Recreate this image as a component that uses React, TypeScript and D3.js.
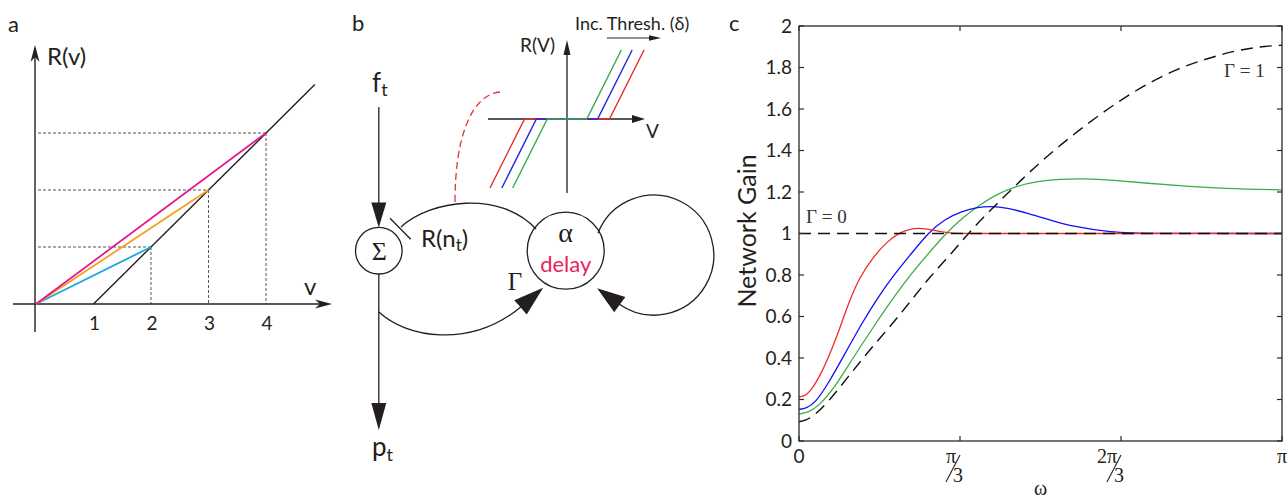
import React, { useEffect, useRef } from 'react';
import * as d3 from 'd3';

// ---------- panel a : threshold-linear rate function ----------
const aTicks = [1, 2, 3, 4];
const aThreshold = 1;
const aLineEnd = 4.85;
const aChordEnds = [2, 3, 4];
const aChordColors = ['#1ba6e0', '#f7a01c', '#e5198b'];

// ---------- panel b inset : thresholds (red, blue, green) ----------
const insetDeltas = [2.15, 1.55, 1.0];
const insetColors = ['#ec2a2d', '#1f25e6', '#3aab48'];
const insetSlope = 2;
const insetRMax = 3.5;

// ---------- panel c : network gain vs omega (omega in units of pi) ----------
const gainTicks = [0, 0.2, 0.4, 0.6, 0.8, 1, 1.2, 1.4, 1.6, 1.8, 2];
const omegaTicks = [0, 1 / 3, 2 / 3, 1];

const redGain = [
  [0, 0.212], [0.012, 0.218], [0.023, 0.237], [0.043, 0.31], [0.064, 0.42], [0.081, 0.519],
  [0.102, 0.663], [0.126, 0.792], [0.154, 0.888], [0.182, 0.96], [0.209, 1.008],
  [0.247, 1.032], [0.282, 1.013], [0.316, 1.0], [0.36, 1.0], [1, 1.0],
];
const blueGain = [
  [0, 0.152], [0.015, 0.158], [0.033, 0.181], [0.061, 0.278], [0.095, 0.42], [0.13, 0.567],
  [0.164, 0.695], [0.199, 0.808], [0.233, 0.904], [0.268, 1.005], [0.302, 1.07],
  [0.337, 1.107], [0.371, 1.127], [0.397, 1.132], [0.43, 1.124], [0.475, 1.097],
  [0.52, 1.065], [0.567, 1.033], [0.645, 1.006], [0.72, 1.0], [1, 1.0],
];
const greenGain = [
  [0, 0.13], [0.018, 0.137], [0.04, 0.165], [0.075, 0.262], [0.109, 0.39], [0.15, 0.535],
  [0.192, 0.68], [0.233, 0.808], [0.268, 0.904], [0.302, 0.995], [0.337, 1.073],
  [0.378, 1.145], [0.413, 1.193], [0.45, 1.228], [0.49, 1.25], [0.54, 1.262],
  [0.59, 1.265], [0.65, 1.257], [0.722, 1.242], [0.8, 1.228], [0.877, 1.217], [1, 1.21],
];
const gammaOneGain = [
  [0, 0.093], [0.015, 0.1], [0.033, 0.125], [0.061, 0.19], [0.102, 0.31], [0.143, 0.43],
  [0.188, 0.55], [0.23, 0.67], [0.271, 0.792], [0.316, 0.904], [0.361, 1.03],
  [0.413, 1.15], [0.463, 1.265], [0.505, 1.355], [0.556, 1.455], [0.612, 1.555],
  [0.666, 1.643], [0.722, 1.723], [0.782, 1.793], [0.846, 1.844], [0.907, 1.884],
  [0.969, 1.904], [1, 1.907],
];
const gammaZeroGain = [[0, 1], [1, 1]];

const SANS = 'Lato, "Open Sans", sans-serif';
const SERIF = '"Liberation Serif", "DejaVu Serif", serif';
const INK = '#231f20';

// filled arrow head; dir is the unit direction the arrow points in
function arrowHead(g, tip, dir, len, half, notch = 0, fill = INK) {
  const [ux, uy] = dir;
  const bx = tip[0] - ux * len, by = tip[1] - uy * len;
  const nx = -uy, ny = ux;
  const pts = [
    tip,
    [bx + nx * half, by + ny * half],
    [tip[0] - ux * (len - notch), tip[1] - uy * (len - notch)],
    [bx - nx * half, by - ny * half],
  ];
  g.append('path').attr('d', d3.line()(pts) + 'Z').attr('fill', fill);
}

function drawPanelA(svg) {
  const g = svg.append('g');
  const x = d3.scaleLinear().domain([0, 4]).range([36, 266]);
  const y = d3.scaleLinear().domain([0, 3]).range([304, 133]);

  g.append('text').attr('x', 8).attr('y', 32).text('a')
    .attr('font-family', SANS).attr('font-size', 22).attr('fill', INK);

  // guides
  aChordEnds.forEach(e => {
    const r = e - aThreshold;
    g.append('line').attr('x1', x(0) + 2).attr('x2', x(e)).attr('y1', y(r)).attr('y2', y(r))
      .attr('stroke', '#555').attr('stroke-width', 1).attr('stroke-dasharray', '3,2');
    g.append('line').attr('x1', x(e)).attr('x2', x(e)).attr('y1', y(r)).attr('y2', y(0))
      .attr('stroke', '#555').attr('stroke-width', 1).attr('stroke-dasharray', '3,2');
  });

  // axes
  g.append('line').attr('x1', 13).attr('x2', 322).attr('y1', y(0)).attr('y2', y(0))
    .attr('stroke', INK).attr('stroke-width', 1.4);
  arrowHead(g, [332, y(0)], [1, 0], 17, 4.5, 5);
  g.append('line').attr('x1', x(0) - 1).attr('x2', x(0) - 1).attr('y1', 332).attr('y2', 55)
    .attr('stroke', INK).attr('stroke-width', 1.4);
  arrowHead(g, [x(0) - 1, 45], [0, -1], 17, 4.5, 5);

  const line = d3.line().x(d => x(d[0])).y(d => y(d[1]));

  // threshold-linear R(v)
  g.append('path').attr('d', line([[aThreshold, 0], [aLineEnd, aLineEnd - aThreshold]]))
    .attr('fill', 'none').attr('stroke', INK).attr('stroke-width', 1.4);

  aChordEnds.forEach((e, i) => {
    g.append('path').attr('d', line([[0, 0], [e, e - aThreshold]]))
      .attr('fill', 'none').attr('stroke', aChordColors[i]).attr('stroke-width', 1.8);
  });

  g.selectAll('.atick').data(aTicks).enter().append('text')
    .attr('x', d => x(d) + 1).attr('y', 330).attr('text-anchor', 'middle')
    .attr('font-family', SANS).attr('font-size', 19).attr('fill', INK).text(d => d);

  g.append('text').attr('x', 47).attr('y', 65).text('R(v)')
    .attr('font-family', SANS).attr('font-size', 24).attr('fill', INK);
  g.append('text').attr('x', 304).attr('y', 295).text('v')
    .attr('font-family', SANS).attr('font-size', 24).attr('fill', INK);
}

function drawPanelB(svg) {
  const g = svg.append('g');
  const sum = { x: 378.8, y: 250.7, r: 23.3 };
  const delay = { x: 565.7, y: 250.7, r: 38.5 };
  const stroke = (sel, w = 1.3) => sel.attr('fill', 'none').attr('stroke', INK).attr('stroke-width', w);

  g.append('text').attr('x', 352).attr('y', 31).text('b')
    .attr('font-family', SANS).attr('font-size', 22).attr('fill', INK);

  // input f_t
  const ft = g.append('text').attr('x', 372).attr('y', 92)
    .attr('font-family', SANS).attr('font-size', 26).attr('fill', INK);
  ft.append('tspan').text('f');
  ft.append('tspan').attr('dy', 4).attr('font-size', 18).text('t');
  stroke(g.append('line').attr('x1', sum.x).attr('x2', sum.x).attr('y1', 107).attr('y2', 205));
  arrowHead(g, [sum.x, sum.y - sum.r], [0, 1], 25, 7.5);

  // sum node
  stroke(g.append('circle').attr('cx', sum.x).attr('cy', sum.y).attr('r', sum.r));
  g.append('text').attr('x', sum.x + 0.5).attr('y', sum.y + 9).attr('text-anchor', 'middle')
    .attr('font-family', SERIF).attr('font-size', 26).attr('fill', INK).text('Σ');

  // output p_t
  stroke(g.append('line').attr('x1', sum.x).attr('x2', sum.x).attr('y1', sum.y + sum.r).attr('y2', 410));
  arrowHead(g, [sum.x, 430], [0, 1], 27, 7.5);
  const pt = g.append('text').attr('x', 372).attr('y', 456)
    .attr('font-family', SANS).attr('font-size', 26).attr('fill', INK);
  pt.append('tspan').text('p');
  pt.append('tspan').attr('dy', 5).attr('font-size', 18).text('t');

  // inhibitory feedback R(n_t)
  stroke(g.append('line').attr('x1', 390).attr('y1', 218.3).attr('x2', 410.7).attr('y2', 239.3));
  stroke(g.append('path').attr('d', 'M401,227 C430,200 500,190 536,229'));
  const rn = g.append('text').attr('x', 421).attr('y', 247)
    .attr('font-family', SANS).attr('font-size', 24).attr('fill', INK);
  rn.append('tspan').text('R(n');
  rn.append('tspan').attr('dy', 4).attr('font-size', 17).text('t');
  rn.append('tspan').attr('dy', -4).text(')');

  // delay node
  stroke(g.append('circle').attr('cx', delay.x).attr('cy', delay.y).attr('r', delay.r));
  g.append('text').attr('x', delay.x).attr('y', 242).attr('text-anchor', 'middle')
    .attr('font-family', SERIF).attr('font-size', 28).attr('fill', INK).text('α');
  g.append('text').attr('x', delay.x).attr('y', 272).attr('text-anchor', 'middle')
    .attr('font-family', SANS).attr('font-size', 22).attr('fill', '#e8235a').text('delay');

  // Gamma feed-forward arc
  stroke(g.append('path').attr('d', 'M379,312 C405,337 470,350 522,306'));
  const d1 = [0.756, -0.654];
  arrowHead(g, [522 + d1[0] * 28, 306 + d1[1] * 28], d1, 30, 9.5);
  g.append('text').attr('x', 515).attr('y', 290).attr('text-anchor', 'middle')
    .attr('font-family', SERIF).attr('font-size', 25).attr('fill', INK).text('Γ');

  // self loop
  stroke(g.append('path').attr('d', 'M598,233 A60,60 0 1 1 619,304'));
  const d2 = [-0.81, -0.586];
  arrowHead(g, [619 + d2[0] * 27, 304 + d2[1] * 27], d2, 28, 9.5);

  // red dashed link to inset
  g.append('path').attr('d', 'M455,202 C455,140 470,95 500,92')
    .attr('fill', 'none').attr('stroke', '#e8303a').attr('stroke-width', 1.3)
    .attr('stroke-dasharray', '7,4');

  // inset: R(V) with thresholds
  const x = d3.scaleLinear().domain([-4, 4]).range([488, 646]);
  const y = d3.scaleLinear().domain([0, insetRMax]).range([119, 50]);
  stroke(g.append('line').attr('x1', x(-4)).attr('x2', 636).attr('y1', y(0)).attr('y2', y(0)));
  arrowHead(g, [645, y(0)], [1, 0], 13, 4);
  stroke(g.append('line').attr('x1', x(0)).attr('x2', x(0)).attr('y1', 193).attr('y2', 50));
  arrowHead(g, [x(0), 40], [0, -1], 15, 3.5);

  const line = d3.line().x(d => x(d[0])).y(d => y(d[1]));
  insetDeltas.forEach((dl, i) => {
    const run = insetRMax / insetSlope;
    const pts = [[-dl - run, -insetRMax], [-dl, 0], [dl, 0], [dl + run, insetRMax]];
    g.append('path').attr('d', line(pts)).attr('fill', 'none')
      .attr('stroke', insetColors[i]).attr('stroke-width', 1.4);
  });

  g.append('text').attr('x', 520).attr('y', 52).text('R(V)')
    .attr('font-family', SANS).attr('font-size', 19).attr('fill', INK);
  g.append('text').attr('x', 646).attr('y', 138).text('V')
    .attr('font-family', SANS).attr('font-size', 19).attr('fill', INK);
  g.append('text').attr('x', 575).attr('y', 30).text('Inc. Thresh. (δ)')
    .attr('font-family', SANS).attr('font-size', 18).attr('fill', INK);
  stroke(g.append('line').attr('x1', 607).attr('x2', 652).attr('y1', 38).attr('y2', 38), 1.1);
  arrowHead(g, [661, 38], [1, 0], 12, 2.8);
}

function drawPanelC(svg) {
  const g = svg.append('g');
  const x = d3.scaleLinear().domain([0, 1]).range([799, 1282]);
  const y = d3.scaleLinear().domain([0, 2]).range([441, 26]);
  const [x0, x1] = x.range();
  const [y0, y1] = y.range();

  g.append('text').attr('x', 729).attr('y', 31).text('c')
    .attr('font-family', SANS).attr('font-size', 22).attr('fill', INK);

  g.append('clipPath').attr('id', 'clipC').append('rect')
    .attr('x', x0).attr('y', y1).attr('width', x1 - x0).attr('height', y0 - y1);

  const line = d3.line().x(d => x(d[0])).y(d => y(d[1])).curve(d3.curveBasis);
  const plot = g.append('g').attr('clip-path', 'url(#clipC)');
  const series = [
    { data: greenGain, color: '#3cae45', dash: null },
    { data: blueGain, color: '#1010f5', dash: null },
    { data: redGain, color: '#f52a2a', dash: null },
    { data: gammaZeroGain, color: '#111', dash: '12,7' },
    { data: gammaOneGain, color: '#111', dash: '12,7' },
  ];
  series.forEach(s => {
    plot.append('path').attr('d', line(s.data)).attr('fill', 'none')
      .attr('stroke', s.color).attr('stroke-width', s.dash ? 1.4 : 1.3)
      .attr('stroke-dasharray', s.dash);
  });

  // box and inward ticks
  g.append('rect').attr('x', x0).attr('y', y1).attr('width', x1 - x0).attr('height', y0 - y1)
    .attr('fill', 'none').attr('stroke', '#2a2a2a').attr('stroke-width', 1.3);
  gainTicks.forEach(t => {
    g.append('line').attr('x1', x0).attr('x2', x0 + 5).attr('y1', y(t)).attr('y2', y(t))
      .attr('stroke', '#2a2a2a').attr('stroke-width', 1.2);
    g.append('line').attr('x1', x1).attr('x2', x1 - 5).attr('y1', y(t)).attr('y2', y(t))
      .attr('stroke', '#2a2a2a').attr('stroke-width', 1.2);
  });
  omegaTicks.forEach(t => {
    g.append('line').attr('x1', x(t)).attr('x2', x(t)).attr('y1', y0).attr('y2', y0 - 5)
      .attr('stroke', '#2a2a2a').attr('stroke-width', 1.2);
    g.append('line').attr('x1', x(t)).attr('x2', x(t)).attr('y1', y1).attr('y2', y1 + 5)
      .attr('stroke', '#2a2a2a').attr('stroke-width', 1.2);
  });

  g.selectAll('.ylab').data(gainTicks).enter().append('text')
    .attr('x', x0 - 7).attr('y', d => y(d)).attr('dy', '0.36em').attr('text-anchor', 'end')
    .attr('font-family', SANS).attr('font-size', 19).attr('fill', INK)
    .text(d => String(+d.toFixed(1)));

  // x labels: 0, pi/3, 2pi/3, pi
  g.append('text').attr('x', x(0)).attr('y', 463).attr('text-anchor', 'middle')
    .attr('font-family', SANS).attr('font-size', 19).attr('fill', INK).text('0');
  g.append('text').attr('x', x(1)).attr('y', 463).attr('text-anchor', 'middle')
    .attr('font-family', SERIF).attr('font-size', 20).attr('fill', INK).text('π');
  [[1 / 3, 'π'], [2 / 3, '2π']].forEach(([t, num]) => {
    const cx = x(t);
    g.append('text').attr('x', cx - 4).attr('y', 463).attr('text-anchor', 'end')
      .attr('font-family', SERIF).attr('font-size', 20).attr('fill', INK).text(num);
    g.append('line').attr('x1', cx - 14).attr('y1', 482).attr('x2', cx).attr('y2', 455)
      .attr('stroke', INK).attr('stroke-width', 1.1);
    g.append('text').attr('x', cx - 7).attr('y', 482)
      .attr('font-family', SERIF).attr('font-size', 20).attr('fill', INK).text('3');
  });

  g.append('text').attr('x', (x0 + x1) / 2).attr('y', 495).attr('text-anchor', 'middle')
    .attr('font-family', SERIF).attr('font-size', 20).attr('fill', INK).text('ω');
  g.append('text').attr('transform', `translate(756, 231) rotate(-90)`).attr('text-anchor', 'middle')
    .attr('font-family', SANS).attr('font-size', 25).attr('fill', INK).text('Network Gain');

  g.append('text').attr('x', 806).attr('y', 223)
    .attr('font-family', SERIF).attr('font-size', 19).attr('fill', '#333').text('Γ = 0');
  g.append('text').attr('x', 1224).attr('y', 77)
    .attr('font-family', SERIF).attr('font-size', 19).attr('fill', '#333').text('Γ = 1');
}

export default function App() {
  const ref = useRef(null);

  useEffect(() => {
    const svg = d3.select(ref.current);
    svg.selectAll('*').remove();
    drawPanelA(svg);
    drawPanelB(svg);
    drawPanelC(svg);
  }, []);

  return (
    <svg
      ref={ref}
      width={1287}
      height={502}
      style={{ position: 'absolute', left: 0, top: 0, background: '#fff' }}
    />
  );
}
